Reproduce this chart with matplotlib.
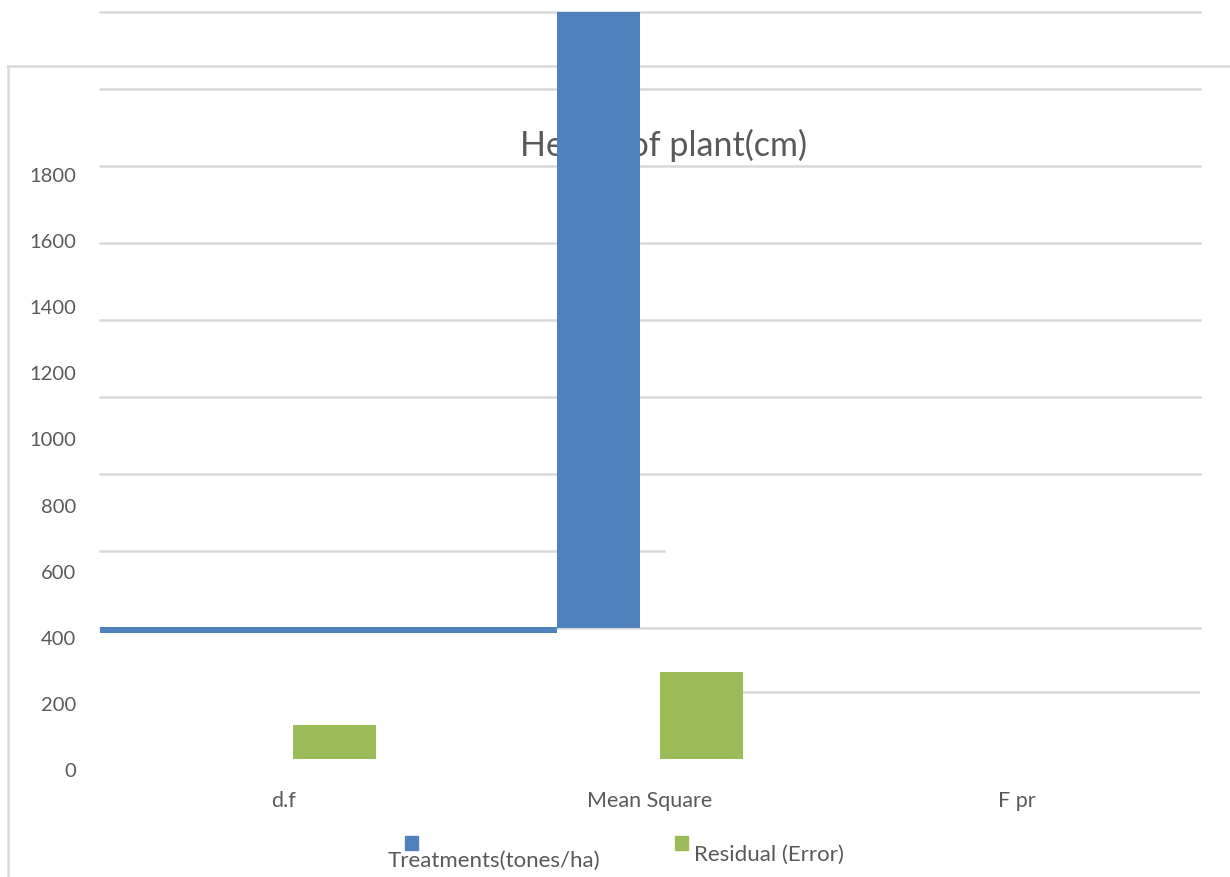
import numpy as np
import matplotlib
matplotlib.use("Agg")
import matplotlib.pyplot as plt
from matplotlib.lines import Line2D
from matplotlib.patches import Rectangle

plt.rcParams["font.family"] = ["Lato", "DejaVu Sans"]

# ---- data -------------------------------------------------------------
categories = ["d.f", "Mean Square", "F pr"]
series_names = ["Treatments(tones/ha)", "Residual (Error)"]
series_colors = ["#4F81BD", "#9BBB59"]

treatment_bottom = [414, 430, 0]
treatment_top = [432, 2500, 0]
residual_bottom = [33, 33, 0]
residual_top = [136, 296, 0]

y_ticks = list(range(0, 1801, 200))
title = "Height of plant(cm)"

# ---- layout (pixels) --------------------------------------------------
W, H, DPI = 1230, 877, 100
AX_L, AX_R, AX_T, AX_B = 100, 1200, 12, 770
PX_PER_UNIT = 0.3306
GRID = "#D9D9D9"
TXT = "#595959"

fig = plt.figure(figsize=(W / DPI, H / DPI), dpi=DPI)
fig.patch.set_facecolor("white")


def fx(px):
    return px / W


def fy(py):
    return 1 - py / H


# outer chart frame
fig.add_artist(Line2D([fx(8), fx(8)], [0, fy(66)], color=GRID, lw=1.8, zorder=-1))
fig.add_artist(Line2D([fx(8), 1], [fy(66), fy(66)], color=GRID, lw=1.8, zorder=-1))

ax = fig.add_axes([fx(AX_L), fy(AX_B), (AX_R - AX_L) / W, (AX_B - AX_T) / H])
ax.patch.set_alpha(0)
ax.set_xlim(-0.5, len(categories) - 0.5)
ax.set_ylim(0, (AX_B - AX_T) / PX_PER_UNIT)
for s in ax.spines.values():
    s.set_visible(False)

# gridlines
grid_base = (AX_B - 628) / PX_PER_UNIT
grid_step = 77 / PX_PER_UNIT
for k in range(9):
    xmax = (664 - AX_L) / (AX_R - AX_L) if k == 1 else 1.0
    ax.axhline(grid_base + k * grid_step, xmin=0, xmax=xmax, color=GRID,
               lw=1.8, zorder=0.5, clip_on=False)
ax.axhline((AX_B - 692) / PX_PER_UNIT, xmin=(740 - AX_L) / (AX_R - AX_L), xmax=1.0,
           color=GRID, lw=1.8, zorder=0.5)

# title (sits beneath the bars)
ax.text((663 - AX_L) / (AX_R - AX_L), 1 - (145 - AX_T) / (AX_B - AX_T), title,
        transform=ax.transAxes, ha="center", va="center", fontsize=24.5,
        color=TXT, zorder=1, clip_on=False)

# bars
x = np.arange(len(categories))
off, w = 0.14, 0.226
t_bottom = np.array(treatment_bottom, float)
t_height = np.array(treatment_top, float) - t_bottom
r_bottom = np.array(residual_bottom, float)
r_height = np.array(residual_top, float) - r_bottom

# treatments: d.f drawn as a strip running up to the Mean Square column
ms_left = x[1] - off - w / 2
ax.bar(-0.5, t_height[0], bottom=t_bottom[0], width=ms_left + 0.5, align="edge",
       color=series_colors[0], zorder=3)
ax.bar(x[1:] - off, t_height[1:], bottom=t_bottom[1:], width=w,
       color=series_colors[0], zorder=3)
ax.bar(x + off, r_height, bottom=r_bottom, width=w, color=series_colors[1], zorder=3)

# axes ticks
ax.set_yticks(y_ticks)
ax.set_yticklabels([str(v) for v in y_ticks])
ax.set_xticks(x)
ax.set_xticklabels(categories)
ax.tick_params(axis="y", length=0, pad=17, labelsize=14.5, labelcolor=TXT)
ax.tick_params(axis="x", length=0, pad=15, labelsize=15.5, labelcolor=TXT)

# legend
legend_marks = [(405, 836), (675, 836)]
legend_texts = [(388, 861), (694, 855)]
for (mx, my), (tx, ty), name, col in zip(legend_marks, legend_texts, series_names, series_colors):
    fig.add_artist(Rectangle((fx(mx), fy(my + 14)), 13 / W, 14 / H,
                             color=col, transform=fig.transFigure))
    fig.text(fx(tx), fy(ty), name, ha="left", va="center", fontsize=16, color=TXT)

fig.savefig("out.png", dpi=DPI)
